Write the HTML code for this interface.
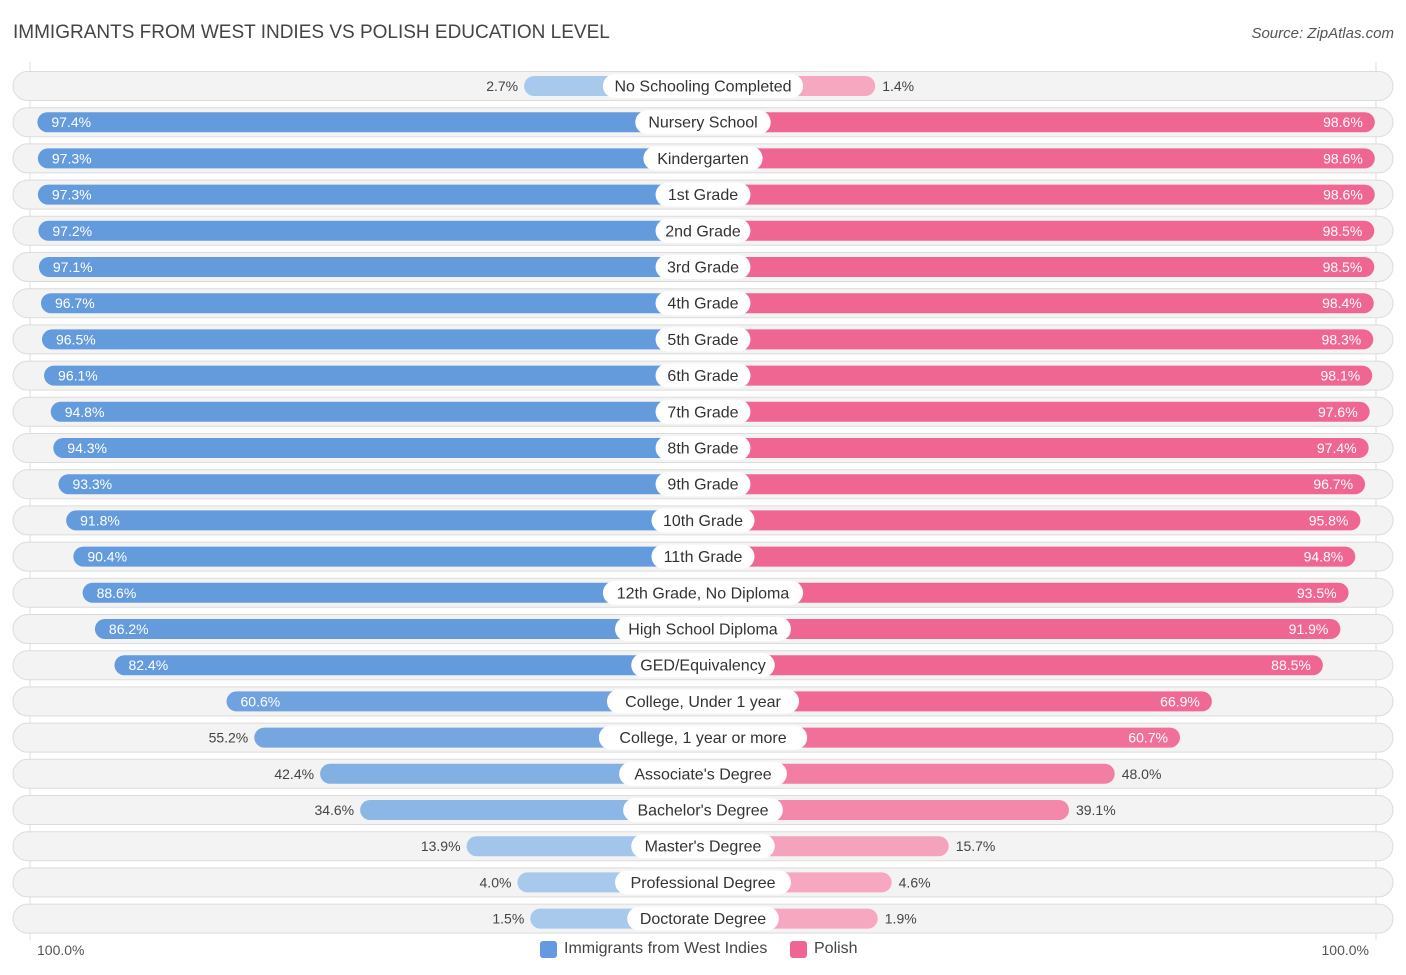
<!DOCTYPE html>
<html><head><meta charset="utf-8"><style>
body{margin:0;width:1406px;height:975px;background:#fff;font-family:"Liberation Sans",sans-serif;position:relative;overflow:hidden}
.t{position:absolute}
</style></head><body>
<div class="t" style="left:13px;top:22px;font-size:19px;color:#444">IMMIGRANTS FROM WEST INDIES VS POLISH EDUCATION LEVEL</div>
<div class="t" style="right:12px;top:25px;font-size:15px;color:#555;font-style:italic">Source: ZipAtlas.com</div>
<svg id="chart" width="1406" height="975" style="position:absolute;left:0;top:0"></svg>
<script>
const categories=["No Schooling Completed","Nursery School","Kindergarten","1st Grade","2nd Grade","3rd Grade","4th Grade","5th Grade","6th Grade","7th Grade","8th Grade","9th Grade","10th Grade","11th Grade","12th Grade, No Diploma","High School Diploma","GED/Equivalency","College, Under 1 year","College, 1 year or more","Associate's Degree","Bachelor's Degree","Master's Degree","Professional Degree","Doctorate Degree"];
const westIndies=[2.7,97.4,97.3,97.3,97.2,97.1,96.7,96.5,96.1,94.8,94.3,93.3,91.8,90.4,88.6,86.2,82.4,60.6,55.2,42.4,34.6,13.9,4.0,1.5];
const polish=[1.4,98.6,98.6,98.6,98.5,98.5,98.4,98.3,98.1,97.6,97.4,96.7,95.8,94.8,93.5,91.9,88.5,66.9,60.7,48.0,39.1,15.7,4.6,1.9];
const NS="http://www.w3.org/2000/svg";
const svg=document.getElementById('chart');
const cx=703,y0=86,dy=36.2;
function w(v){return 165+5.14*v;}
function yPos(i){return y0+i*dy;}
function mix(a,b,t){return a.map((x,k)=>Math.round(x+(b[k]-x)*t));}
function col(v,dark,light){const t=Math.max(0,Math.min(1,(v-10)/60));const c=mix(light,dark,t);return `rgb(${c})`;}
function el(tag,attrs){const e=document.createElementNS(NS,tag);for(const k in attrs)e.setAttribute(k,attrs[k]);svg.appendChild(e);return e;}
const gl=el('line',{x1:30,y1:62,x2:30,y2:940,stroke:'#ddd'});


const gr=el('line',{x1:1376,y1:62,x2:1376,y2:940,stroke:'#ddd'});


categories.forEach((c,i)=>{
  const y=yPos(i);
  const bg=el('rect',{x:13,y:y-14.5,width:1380,height:29,rx:14.5,fill:'#f3f3f3',stroke:'#dcdcdc'});
  
  
  const a=westIndies[i],b=polish[i];
  const wl=w(a),wr=w(b);
  const lb=el('rect',{x:cx-wl,y:y-10,width:wl,height:20,rx:10,fill:col(a,[100,155,220],[168,200,236])});
  
  
  const rb=el('rect',{x:cx,y:y-10,width:wr,height:20,rx:10,fill:col(b,[240,102,146],[246,168,192])});
  
  
  const inL=a>58,inR=b>58;
  const tl=el('text',{x:inL?cx-wl+14:cx-wl-6,y:y+5,'font-size':14,fill:inL?'#fff':'#444','text-anchor':inL?'start':'end'});
  tl.textContent=a.toFixed(1)+'%';
  
  
  const tr=el('text',{x:inR?cx+wr-12:cx+wr+7,y:y+5,'font-size':14,fill:inR?'#fff':'#444','text-anchor':inR?'end':'start'});
  tr.textContent=b.toFixed(1)+'%';
  
  
  const lt=el('text',{x:cx,y:y+5.5,'font-size':16,fill:'#333','text-anchor':'middle'});
  lt.textContent=c;
  const bb=c.length*8.1+22;
  const pill=el('rect',{x:cx-bb/2,y:y-12,width:bb,height:24,rx:12,fill:'#fff'});
  
  
  svg.appendChild(lt);
  
  
});
</script>
<div class="t" style="left:37px;top:942px;font-size:14px;color:#555">100.0%</div>
<div class="t" style="right:37px;top:942px;font-size:14px;color:#555">100.0%</div>
<div class="t" style="left:540px;top:940px;font-size:16px;color:#444;display:flex;align-items:center"><span style="display:inline-block;width:17px;height:17px;background:#649be0;border-radius:3px;margin-right:7px"></span>Immigrants from West Indies</div>
<div class="t" style="left:790px;top:940px;font-size:16px;color:#444;display:flex;align-items:center"><span style="display:inline-block;width:17px;height:17px;background:#f06692;border-radius:3px;margin-right:7px"></span>Polish</div>
</body></html>
